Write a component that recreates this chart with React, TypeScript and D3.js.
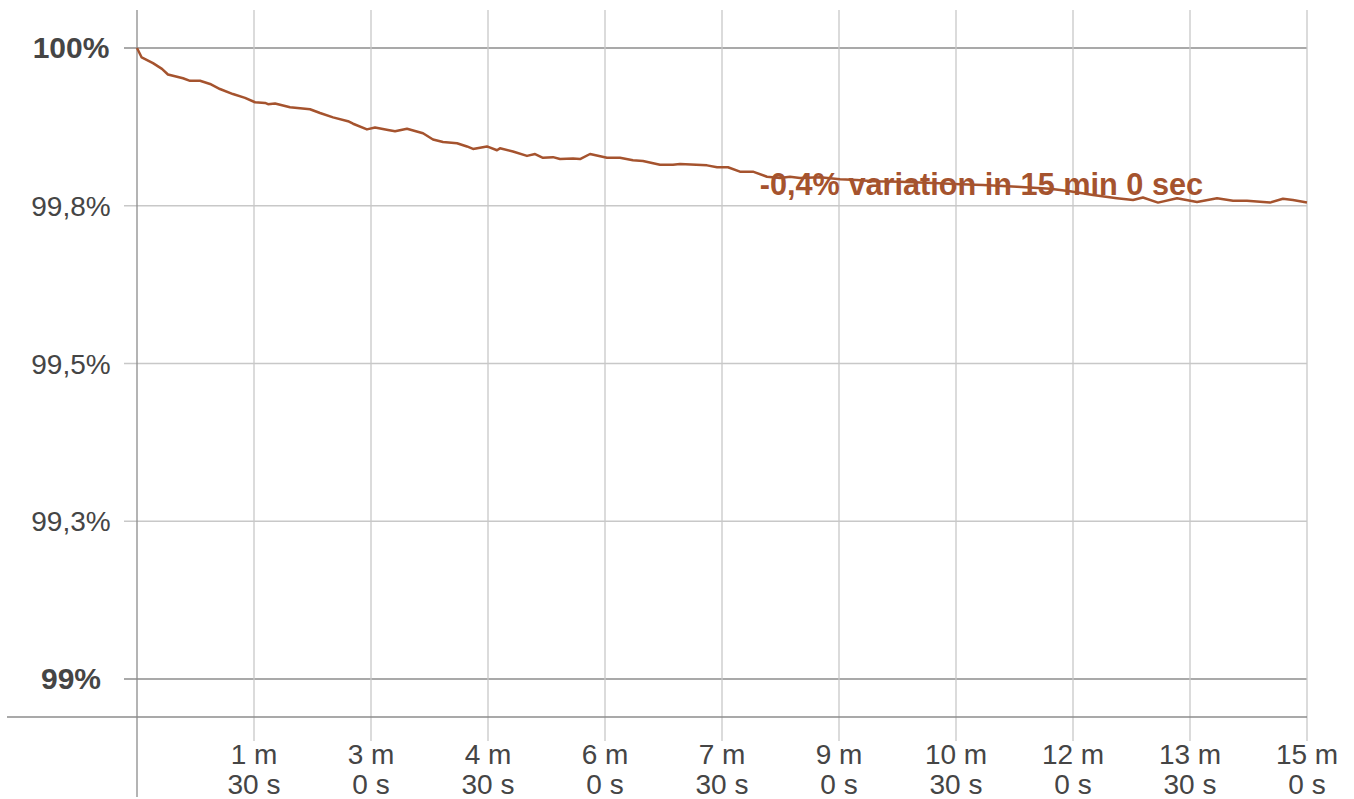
// Battery level drift - D3.js line chart over a 15 minute window

import { useEffect, useRef } from "react";
import * as d3 from "d3";

// elapsed time in seconds
const times = [
  0, 3.6, 12.3, 19.2, 23.8, 35.4, 40.8, 48.5, 56.2, 63.8, 73.8, 83.1, 90.8,
  98.5, 100.8, 106.2, 117.7, 133.1, 140.8, 150.8, 162.3, 166.2, 176.9, 183.1,
  193.1, 198.5, 207.7, 220, 227.7, 235.4, 246.2, 253.8, 258.5, 269.2, 276.9,
  279.2, 289.2, 300, 306.2, 312.3, 320, 325.4, 335.4, 340.8, 348.5, 361.5,
  371.5, 381.5, 389.2, 402.3, 412.3, 417.7, 438.5, 446.2, 454.6, 463.8, 473.8,
  484.6, 494.6, 502.3, 510, 525.4, 540.8, 553.8, 566.2, 586.9, 612.3, 633.1,
  650.8, 676.9, 702.3, 717.7, 735.4, 753.8, 766.2, 773.8, 785.4, 800, 815.4,
  830.8, 843.1, 853.8, 871.5, 881.5, 889.2, 900,
];

// level in percent
const levels = [
  100, 99.985, 99.976, 99.967, 99.958, 99.952, 99.948, 99.948, 99.943, 99.935,
  99.927, 99.921, 99.914, 99.913, 99.911, 99.912, 99.906, 99.903, 99.897,
  99.89, 99.884, 99.88, 99.871, 99.874, 99.87, 99.868, 99.872, 99.865, 99.855,
  99.851, 99.849, 99.844, 99.84, 99.844, 99.838, 99.841, 99.836, 99.829,
  99.832, 99.826, 99.827, 99.824, 99.825, 99.824, 99.832, 99.826, 99.826,
  99.822, 99.821, 99.815, 99.815, 99.816, 99.814, 99.811, 99.811, 99.804,
  99.804, 99.796, 99.794, 99.796, 99.794, 99.795, 99.792, 99.791, 99.789,
  99.788, 99.786, 99.784, 99.783, 99.78, 99.777, 99.773, 99.767, 99.762,
  99.759, 99.763, 99.755, 99.762, 99.756, 99.762, 99.758, 99.758, 99.755,
  99.761, 99.759, 99.755,
];

const yTicks = [100, 99.75, 99.5, 99.25, 99];
const yTickLabels = ["100%", "99,8%", "99,5%", "99,3%", "99%"];
const xTicks = [90, 180, 270, 360, 450, 540, 630, 720, 810, 900];
const xTickLines = [
  ["1 m", "30 s"],
  ["3 m", "0 s"],
  ["4 m", "30 s"],
  ["6 m", "0 s"],
  ["7 m", "30 s"],
  ["9 m", "0 s"],
  ["10 m", "30 s"],
  ["12 m", "0 s"],
  ["13 m", "30 s"],
  ["15 m", "0 s"],
];
const annotation = "-0,4% variation in 15 min 0 sec";

const WIDTH = 1354;
const HEIGHT = 799;
const FONT = "'Liberation Sans', Arial, sans-serif";
const LINE_COLOR = "#a5532e";
const TEXT_COLOR = "#454545";

export default function App() {
  const svgRef = useRef<SVGSVGElement>(null);

  useEffect(() => {
    if (!svgRef.current) return;

    const svg = d3.select(svgRef.current);
    svg.selectAll("*").remove();

    const x = d3.scaleLinear().domain([0, 900]).range([137, 1307]);
    const y = d3.scaleLinear().domain([99, 100]).range([679, 48]);
    const axisY = 717;

    // Horizontal grid
    svg
      .append("g")
      .selectAll("line")
      .data(yTicks)
      .enter()
      .append("line")
      .attr("x1", 124)
      .attr("x2", x(900))
      .attr("y1", (d) => y(d))
      .attr("y2", (d) => y(d))
      .attr("stroke", (d) => (d === 100 || d === 99 ? "#8c8c8c" : "#c8c8c8"))
      .attr("stroke-width", 1.3);

    // Vertical grid
    svg
      .append("g")
      .selectAll("line")
      .data(xTicks)
      .enter()
      .append("line")
      .attr("x1", (d) => x(d))
      .attr("x2", (d) => x(d))
      .attr("y1", 10)
      .attr("y2", 741)
      .attr("stroke", "#c8c8c8")
      .attr("stroke-width", 1.3);

    // Axes
    svg
      .append("line")
      .attr("x1", 7)
      .attr("x2", x(900))
      .attr("y1", axisY)
      .attr("y2", axisY)
      .attr("stroke", "#8c8c8c")
      .attr("stroke-width", 1.3);

    svg
      .append("line")
      .attr("x1", x(0))
      .attr("x2", x(0))
      .attr("y1", 10)
      .attr("y2", 797)
      .attr("stroke", "#8c8c8c")
      .attr("stroke-width", 1.3);

    // Y labels
    svg
      .append("g")
      .selectAll("text")
      .data(yTicks)
      .enter()
      .append("text")
      .attr("x", 71)
      .attr("y", (d) => y(d) + 10)
      .attr("text-anchor", "middle")
      .attr("fill", TEXT_COLOR)
      .style("font-family", FONT)
      .style("font-size", (d) => (d === 100 || d === 99 ? "30px" : "28px"))
      .style("font-weight", (d) => (d === 100 || d === 99 ? "bold" : "normal"))
      .text((d, i) => yTickLabels[i]);

    // X labels, two lines each
    const xl = svg
      .append("g")
      .selectAll("text")
      .data(xTicks)
      .enter()
      .append("text")
      .attr("text-anchor", "middle")
      .attr("fill", TEXT_COLOR)
      .style("font-family", FONT)
      .style("font-size", "28px");

    xl.append("tspan")
      .attr("x", (d) => x(d))
      .attr("y", 764)
      .text((d, i) => xTickLines[i][0]);
    xl.append("tspan")
      .attr("x", (d) => x(d))
      .attr("y", 794)
      .text((d, i) => xTickLines[i][1]);

    // Series
    const pts = times.map((t, i) => [t, levels[i]] as [number, number]);
    const line = d3
      .line<[number, number]>()
      .x((d) => x(d[0]))
      .y((d) => y(d[1]));

    svg
      .append("path")
      .datum(pts)
      .attr("d", line)
      .attr("fill", "none")
      .attr("stroke", LINE_COLOR)
      .attr("stroke-width", 2.5)
      .attr("stroke-linejoin", "round");

    // Annotation
    svg
      .append("text")
      .attr("x", x(479))
      .attr("y", 195)
      .attr("fill", LINE_COLOR)
      .style("font-family", FONT)
      .style("font-size", "30.7px")
      .style("font-weight", "bold")
      .text(annotation);
  }, []);

  return (
    <svg
      ref={svgRef}
      width={WIDTH}
      height={HEIGHT}
      style={{ position: "absolute", left: 0, top: 0, background: "#fff" }}
    />
  );
}
